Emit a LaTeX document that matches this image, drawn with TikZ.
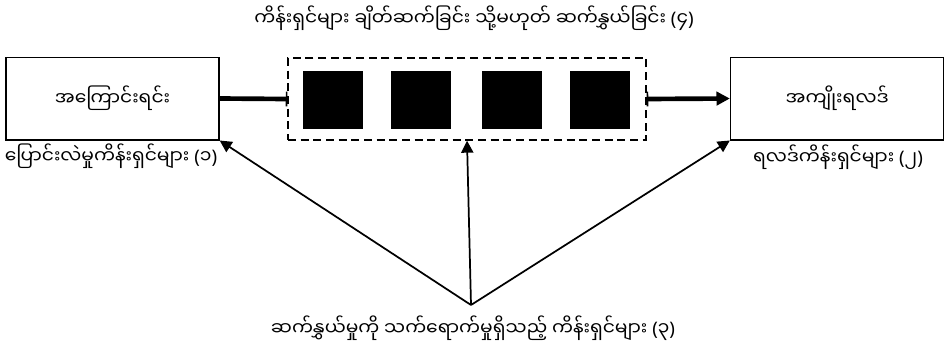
\documentclass[tikz,border=0pt]{standalone}
\usepackage{fontspec}
\newfontfamily\mmfont[Script=Myanmar]{Noto Sans Myanmar UI}
\newfontfamily\latfont{Noto Sans}
\newcommand{\pnum}[1]{{\latfont(}#1{\latfont)}}
\usetikzlibrary{arrows.meta}

\begin{document}
\begin{tikzpicture}[x=0.75pt, y=-0.75pt,
  every node/.style={font=\mmfont\fontsize{14}{16}\selectfont},
  box/.style={draw, line width=1pt, minimum width=159.75pt, minimum height=62pt},
  dashbox/.style={draw, dashed, line width=1pt, dash pattern=on 6pt off 3.5pt, minimum width=268.5pt, minimum height=61.5pt},
  block/.style={fill=black, minimum width=45pt, minimum height=43pt, inner sep=0pt},
  flow/.style={line width=3.5pt},
  effect/.style={line width=1.3pt, -{Triangle[length=9pt, width=9pt]}}]
\useasboundingbox (0,0) rectangle (945,347);

% Boxes
\node[box] (cause) at (112.5,98.5) {အကြောင်းရင်း};
\node[box] (result) at (837,98.5) {အကျိုးရလဒ်};
\node[dashbox] (link) at (467,99) {};

% Squares
\foreach \x/\n in {333/v1, 421/v2, 512/v3, 600/v4} {
  \node[block] (\n) at (\x,100) {};
}

% Labels
\node (toplabel) at (474,18) {ကိန်းရှင်များ ချိတ်ဆက်ခြင်း သို့မဟုတ် ဆက်နွှယ်ခြင်း \pnum{၄}};
\node (leftlabel) at (111,156) {ပြောင်းလဲမှုကိန်းရှင်များ \pnum{၁}};
\node (rightlabel) at (838,157) {ရလဒ်ကိန်းရှင်များ \pnum{၂}};
\node (bottomlabel) at (473,328) {ဆက်နွှယ်မှုကို သက်ရောက်မှုရှိသည့် ကိန်းရှင်များ \pnum{၃}};

% Main flow
\draw[flow, -{Bar[width=11pt, line width=1.2pt]}] (cause.east) -- (link.west);
\draw[flow, {Bar[width=11pt, line width=1.2pt]}-{Triangle[length=10pt, width=10pt]}] (link.east) -- (result.west);

% Third variables
\coordinate (apex) at (471,305);
\draw[effect] (apex) -- (cause.south east);
\draw[effect] (apex) -- (link.south);
\draw[effect] (apex) -- (result.south west);
\end{tikzpicture}
\end{document}
